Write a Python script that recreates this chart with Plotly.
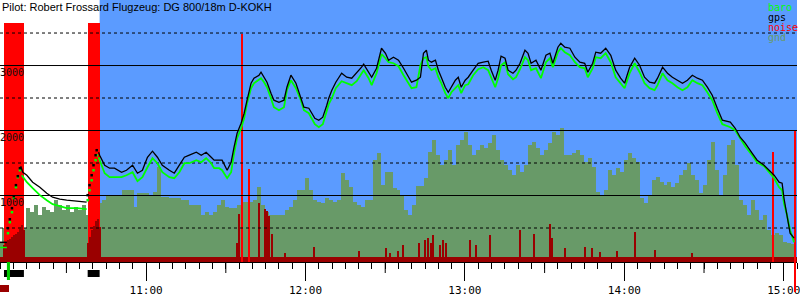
import pandas as pd
import plotly.graph_objects as go

DAY = "2024-06-01"
T0 = pd.Timestamp(DAY + " 10:00")


def at(minutes):
    return [T0 + pd.Timedelta(minutes=m) for m in minutes]


# ---------------- data (minutes after 10:00, metres) ----------------
X_START, X_END = 5.0, 305.0
Y_MIN, Y_MAX = -23, 4008

title_text = "Pilot: Robert Frossard Flugzeug: DG 800/18m D-KOKH"
legend_names = ["baro", "gps", "noise", "gnd"]
ytick_vals = [1000, 2000, 3000]
grid_solid = [1000, 2000, 3000]
grid_dashed = [500, 1500, 2500, 3500]

engine_start = [6.5, 38.0]
engine_end = [14.0, 42.5]
engine_bar_top = 3650
flight_start = 42.5
marker_green_t = [7.6, 8.75]
marker_red_t = [5.0, 8.4]

# before engine start
pre_t = [5.0, 7.6]
pre_gps = [280, 280]
pre_baro = [200, 200]

# first motor climb (dots)
climb1_t = [8.0, 8.7, 9.5, 10.2, 11.0, 11.7, 12.5]
climb1_gps = [497, 635, 805, 989, 1159, 1297, 1420]
climb1_baro = [420, 589, 743, 958, 1128, 1282, 1389]

# glide between engine runs
glide_gps_t = [12.8, 13.6, 15.1, 17.3, 20.0, 22.6, 24.8, 27.5, 30.1, 33.9, 37.6]
glide_gps = [1451, 1358, 1312, 1205, 1128, 1036, 974, 943, 928, 912, 897]
glide_baro_t = [13.2, 15.1, 17.3, 20.0, 22.6, 24.8, 27.5, 30.1, 33.9, 37.6]
glide_baro = [1312, 1205, 1112, 1005, 928, 866, 835, 805, 805, 789]

# second motor climb (dots)
climb2_t = [38.0, 38.7, 39.5, 40.2, 41.0, 41.4]
climb2_gps = [1005, 1159, 1312, 1466, 1620, 1697]
climb2_baro = [928, 1081, 1235, 1389, 1543, 1620]

# flight
flight_t = [
    42.1, 42.5, 44.4, 46.25, 48.1, 50.75, 52.6, 54.9, 56.75, 58.6,
    60.5, 62.4, 64.25, 66.1, 68.75, 70.6, 72.5, 74.4, 76.25, 78.9,
    80.75, 82.6, 84.5, 85.6, 87.5, 88.6, 90.5, 92.0, 93.1, 94.25,
    95.75, 96.9, 98.0, 99.5, 100.6, 102.5, 103.25, 104.4, 105.5, 107.0,
    108.1, 110.0, 111.9, 113.0, 114.5, 116.4, 118.25, 119.4, 121.25, 123.5,
    125.0, 126.5, 128.0, 128.75, 129.9, 131.4, 133.6, 135.5, 137.4, 139.25,
    141.1, 141.9, 143.75, 144.9, 146.75, 148.25, 148.6, 150.1, 151.25, 153.1,
    155.0, 156.9, 158.75, 159.9, 161.75, 163.25, 164.4, 165.5, 166.25, 167.4,
    168.9, 170.0, 171.1, 172.6, 173.75, 174.9, 176.4, 177.5, 178.6, 180.1,
    181.25, 183.1, 185.0, 186.9, 188.75, 189.9, 191.4, 192.5, 193.6, 195.1,
    196.25, 198.1, 199.25, 200.75, 202.6, 203.75, 204.9, 206.75, 208.6, 210.5,
    212.0, 213.1, 215.0, 216.1, 217.6, 219.5, 221.4, 223.25, 225.1, 226.25,
    228.1, 229.25, 231.1, 233.0, 234.9, 236.75, 238.6, 240.1, 242.0, 243.9,
    245.75, 247.6, 249.5, 251.4, 252.5, 254.4, 256.25, 258.1, 260.0, 261.9,
    263.75, 265.6, 267.5, 269.4, 271.25, 273.1, 275.0, 276.9, 279.9, 281.75,
    283.6, 285.5, 288.1, 290.0, 292.6, 294.5, 296.4, 298.25, 299.4, 300.1,
    301.25, 302.4, 303.9,
]
flight_gps = [
    1666, 1620, 1466, 1420, 1420, 1358, 1389, 1466, 1343, 1389,
    1589, 1682, 1589, 1466, 1389, 1343, 1466, 1589, 1620, 1666,
    1620, 1666, 1589, 1543, 1543, 1543, 1389, 1512, 1743, 1958,
    2112, 2266, 2466, 2728, 2805, 2851, 2897, 2820, 2743, 2574,
    2466, 2435, 2466, 2666, 2851, 2728, 2512, 2358, 2343, 2189,
    2158, 2205, 2389, 2497, 2620, 2743, 2882, 2820, 2805, 2882,
    2974, 3020, 2882, 2820, 2958, 3205, 3266, 3189, 3082, 3128,
    3082, 2958, 2820, 2743, 2774, 2820, 3189, 3235, 3082, 3051,
    3082, 2928, 2820, 2666, 2589, 2666, 2774, 2820, 2666, 2774,
    2820, 2928, 3035, 3051, 3066, 2928, 2774, 2928, 3143, 3112,
    2928, 2882, 2928, 3035, 3235, 3189, 3035, 3082, 2928, 3158,
    3189, 3035, 3282, 3343, 3282, 3266, 3128, 3051, 3035, 2897,
    3035, 3205, 3189, 3266, 3158, 2928, 2805, 2728, 2974, 3112,
    3005, 2820, 2743, 2728, 2805, 2974, 2882, 2820, 2774, 2728,
    2774, 2851, 2805, 2774, 2666, 2543, 2343, 2158, 2128, 2035,
    1897, 1805, 1651, 1543, 1466, 1389, 1312, 1205, 1189, 958,
    666, 420, 343,
]
flight_baro = [
    1589, 1543, 1343, 1282, 1282, 1282, 1312, 1358, 1220, 1282,
    1435, 1574, 1497, 1358, 1282, 1266, 1358, 1497, 1497, 1543,
    1512, 1574, 1497, 1420, 1420, 1389, 1266, 1358, 1651, 1882,
    2035, 2189, 2420, 2651, 2728, 2774, 2805, 2743, 2666, 2497,
    2358, 2312, 2358, 2620, 2774, 2651, 2466, 2312, 2266, 2097,
    2051, 2097, 2312, 2405, 2497, 2651, 2758, 2728, 2697, 2758,
    2882, 2928, 2805, 2697, 2882, 3128, 3174, 3112, 3051, 3035,
    2989, 2851, 2728, 2651, 2666, 3005, 3112, 3128, 2989, 2928,
    2958, 2820, 2728, 2574, 2497, 2589, 2651, 2697, 2574, 2697,
    2712, 2851, 2943, 2974, 2928, 2805, 2666, 2805, 3005, 3051,
    2866, 2789, 2820, 2943, 3128, 3082, 2928, 2958, 2805, 3051,
    3112, 2974, 3205, 3266, 3205, 3158, 3051, 2974, 2958, 2820,
    2958, 3128, 3112, 3189, 3051, 2820, 2728, 2651, 2882, 3035,
    2897, 2728, 2651, 2620, 2697, 2882, 2774, 2728, 2666, 2620,
    2666, 2774, 2728, 2697, 2589, 2466, 2266, 2097, 2051, 2005,
    1882, 1758, 1620, 1512, 1451, 1358, 1266, 1128, 1081, 881,
    697, 466, 281,
]

# ground elevation, one value every 1.5 min from 10:05
gnd_start = 5.0
gnd_step = 1.5
gnd = [
    266, 497, 466, 497, 543, 543, 497, 805, 743, 851,
    697, 820, 774, 743, 928, 851, 774, 851, 743, 820,
    774, 851, 697, 697, 697, 881, 928, 1005, 1005, 1005,
    1005, 1081, 1081, 1081, 820, 1036, 1036, 1036, 1005, 1051,
    1435, 974, 974, 958, 958, 958, 928, 928, 851, 851,
    851, 697, 743, 697, 743, 851, 928, 820, 805, 805,
    851, 897, 897, 897, 928, 1128, 851, 743, 697, 697,
    697, 697, 774, 820, 928, 1081, 1081, 1266, 1081, 928,
    897, 881, 958, 928, 897, 928, 1343, 1235, 1128, 897,
    851, 820, 928, 928, 1543, 1651, 1158, 1358, 1358, 1112,
    1081, 1005, 774, 697, 851, 1143, 1143, 1266, 1666, 1851,
    1620, 1466, 1543, 1697, 1466, 1774, 1851, 1974, 1774, 1620,
    1697, 1774, 1728, 1805, 1928, 1697, 1543, 1466, 1389, 1312,
    1466, 1358, 1466, 1774, 1820, 1728, 1620, 1697, 1805, 1974,
    1928, 2035, 1620, 1620, 1651, 1697, 1620, 1512, 1574, 1435,
    1051, 1005, 1081, 1389, 1312, 1420, 1358, 1543, 1651, 1574,
    1512, 958, 881, 1005, 1235, 1282, 1205, 1158, 1205, 1128,
    1189, 1312, 1389, 1497, 1312, 1235, 1036, 1158, 1543, 1820,
    1389, 1005, 1312, 1774, 1851, 1466, 928, 851, 697, 928,
    774, 620, 697, 466, 389, 420, 389, 281, 266, 251,
]

# noise
noise_floor = 50
eng1_noise_t = [6.5, 7.25, 8.0, 8.75, 9.5, 10.25, 11.0, 11.75, 12.5, 13.25, 14.0]
eng1_noise = [235, 262, 308, 338, 369, 385, 415, 446, 492, 554, 462]
eng2_noise_t = [38.0, 38.75, 39.5, 40.25, 41.0, 41.75, 42.5]
eng2_noise = [277, 369, 462, 538, 615, 646, 523]
spike_t = [94.25, 95.0, 102.5, 104.75, 105.5, 106.25, 107.4, 112.25, 123.1, 140.4,
           150.5, 152.0, 155.0, 156.9, 162.9, 165.1, 166.25, 167.4, 168.1, 170.75,
           171.9, 173.0, 182.0, 184.25, 189.5, 200.75, 206.0, 212.0, 212.75, 217.6,
           225.1, 228.1, 230.75, 237.5, 244.25, 251.75, 265.6]
spike_v = [265, 723, 892, 800, 769, 692, 415, 123, 215, 154,
           185, 123, 154, 231, 262, 308, 354, 262, 385, 231,
           308, 262, 308, 231, 385, 462, 415, 569, 354, 200,
           215, 185, 138, 154, 431, 169, 123]
loud_t = [96.1, 98.75, 296.0, 304.25]
loud_v = [3492, 1415, 1662, 2000]
half_hours = [30, 90, 150, 210, 270]

# ---------------- styles ----------------
BLUE = "#5b9bff"
GND = "#689a68"
DARKRED = "#9a0000"
RED = "#ff0000"
MONO = "DejaVu Sans Mono"
H = 262
MIN_MS = 60000

fig = go.Figure()

# ground
fig.add_trace(go.Bar(x=at([gnd_start + i * gnd_step for i in range(len(gnd))]), y=gnd,
                     width=gnd_step * MIN_MS, marker=dict(color=GND, line_width=0)))
# engine runs
fig.add_trace(go.Bar(x=at([(s + e) / 2 for s, e in zip(engine_start, engine_end)]),
                     y=[engine_bar_top] * len(engine_start),
                     width=[(e - s) * MIN_MS for s, e in zip(engine_start, engine_end)],
                     marker=dict(color=RED, line_width=0)))
# noise floor
fig.add_trace(go.Bar(x=at([(X_START + X_END) / 2]), y=[noise_floor - Y_MIN], base=Y_MIN,
                     width=(X_END - X_START) * MIN_MS, marker=dict(color=DARKRED, line_width=0)))
for tt, vv in [(eng1_noise_t, eng1_noise), (eng2_noise_t, eng2_noise)]:
    fig.add_trace(go.Bar(x=at(tt), y=[v - Y_MIN for v in vv], base=Y_MIN, width=0.8 * MIN_MS,
                         marker=dict(color=DARKRED, line_width=0)))
fig.add_trace(go.Bar(x=at(spike_t), y=[v - Y_MIN for v in spike_v], base=Y_MIN, width=0.55 * MIN_MS,
                     marker=dict(color=DARKRED, line_width=0)))
fig.add_trace(go.Bar(x=at(loud_t), y=[v - Y_MIN for v in loud_v], base=Y_MIN,
                     width=[0.4 * MIN_MS, 0.4 * MIN_MS, 0.4 * MIN_MS, 0.9 * MIN_MS],
                     marker=dict(color=RED, line_width=0)))

# grid lines
def hlines(vals):
    xs, ys = [], []
    for v in vals:
        xs += [X_START, X_END, None]
        ys += [v, v, None]
    return [T0 + pd.Timedelta(minutes=m) if m is not None else None for m in xs], ys

gx, gy = hlines(grid_solid)
fig.add_trace(go.Scatter(x=gx, y=gy, mode="lines", line=dict(color="black", width=1)))
gx, gy = hlines(grid_dashed)
fig.add_trace(go.Scatter(x=gx, y=gy, mode="lines", line=dict(color="black", width=1, dash="3px,3px")))

# baro / gps
fig.add_trace(go.Scatter(x=at(pre_t), y=pre_baro, mode="lines", line=dict(color="#00ff00", width=1.5)))
fig.add_trace(go.Scatter(x=at(pre_t), y=pre_gps, mode="lines", line=dict(color="black", width=1.5)))
for tt, g, b in [(climb1_t, climb1_gps, climb1_baro), (climb2_t, climb2_gps, climb2_baro)]:
    fig.add_trace(go.Scatter(x=at(tt), y=b, mode="markers", marker=dict(color="#00ff00", size=2.5, symbol="square")))
    fig.add_trace(go.Scatter(x=at(tt), y=g, mode="markers", marker=dict(color="black", size=2.5, symbol="square")))
fig.add_trace(go.Scatter(x=at(glide_baro_t), y=glide_baro, mode="lines", line=dict(color="#00ff00", width=1.8)))
fig.add_trace(go.Scatter(x=at(glide_gps_t), y=glide_gps, mode="lines", line=dict(color="black", width=1.3)))
fig.add_trace(go.Scatter(x=at(flight_t), y=flight_baro, mode="lines", line=dict(color="#00ff00", width=1.8)))
fig.add_trace(go.Scatter(x=at(flight_t), y=flight_gps, mode="lines", line=dict(color="black", width=1.3)))

shapes = [dict(type="rect", xref="x", yref="paper", x0=at([flight_start])[0], x1=at([X_END])[0],
               y0=0, y1=1, fillcolor=BLUE, line_width=0, layer="below")]
for m in half_hours:
    shapes.append(dict(type="line", xref="x", yref="paper", x0=at([m])[0], x1=at([m])[0],
                       y0=0, y1=-11 / H, line=dict(color="black", width=1)))
for s, e in zip(engine_start, engine_end):
    shapes.append(dict(type="rect", xref="x", yref="paper", x0=at([s])[0], x1=at([e])[0],
                       y0=-8 / H, y1=-15 / H, fillcolor="black", line_width=0))
shapes.append(dict(type="rect", xref="x", yref="paper", x0=at([marker_green_t[0]])[0],
                   x1=at([marker_green_t[1]])[0], y0=0, y1=-18 / H, fillcolor="#00cc00", line_width=0))
shapes.append(dict(type="rect", xref="x", yref="paper", x0=at([marker_red_t[0]])[0],
                   x1=at([marker_red_t[1]])[0], y0=-23 / H, y1=-30 / H, fillcolor=DARKRED, line_width=0))
shapes.append(dict(type="line", xref="x", yref="paper", x0=at([loud_t[-1]])[0], x1=at([loud_t[-1]])[0],
                   y0=0, y1=-30 / H, line=dict(color=RED, width=2)))

annotations = [dict(text=title_text, xref="paper", yref="paper", x=0, y=1, xanchor="left", yanchor="middle",
                    yshift=-7, showarrow=False, font=dict(family="Liberation Sans", size=11, color="black"))]
for v in ytick_vals:
    annotations.append(dict(text=str(v), xref="paper", yref="y", x=0, y=v, xanchor="left", yanchor="middle",
                            yshift=-7, xshift=-2, showarrow=False, font=dict(family=MONO, size=10, color="#111")))
leg_colors = ["#00ff00", "black", RED, GND]
for i, (n, c) in enumerate(zip(legend_names, leg_colors)):
    annotations.append(dict(text=n, xref="paper", yref="paper", x=769 / 800, y=1, xanchor="left",
                            yanchor="middle", yshift=-7 - 10 * i, showarrow=False,
                            font=dict(family=MONO, size=10, color=c)))

fig.update_layout(
    width=800, height=300, margin=dict(l=0, r=0, t=0, b=38),
    paper_bgcolor="white", plot_bgcolor="white", showlegend=False,
    barmode="overlay", bargap=0,
    shapes=shapes, annotations=annotations,
    xaxis=dict(type="date", range=[at([X_START])[0], at([X_END])[0]], tickformat="%H:%M",
               dtick=3600000, tick0=DAY + " 10:00", ticks="outside", ticklen=18, tickcolor="black",
               tickwidth=1, showline=True, linecolor="black", linewidth=1, showgrid=False, zeroline=False,
               ticklabeloverflow="allow",
               tickfont=dict(family=MONO, size=11, color="black"),
               minor=dict(dtick=300000, tick0=DAY + " 10:00", ticks="outside", ticklen=6,
                          tickcolor="black", showgrid=False)),
    yaxis=dict(range=[Y_MIN, Y_MAX], visible=False, showgrid=False, zeroline=False),
)

fig.write_html("out.html")
